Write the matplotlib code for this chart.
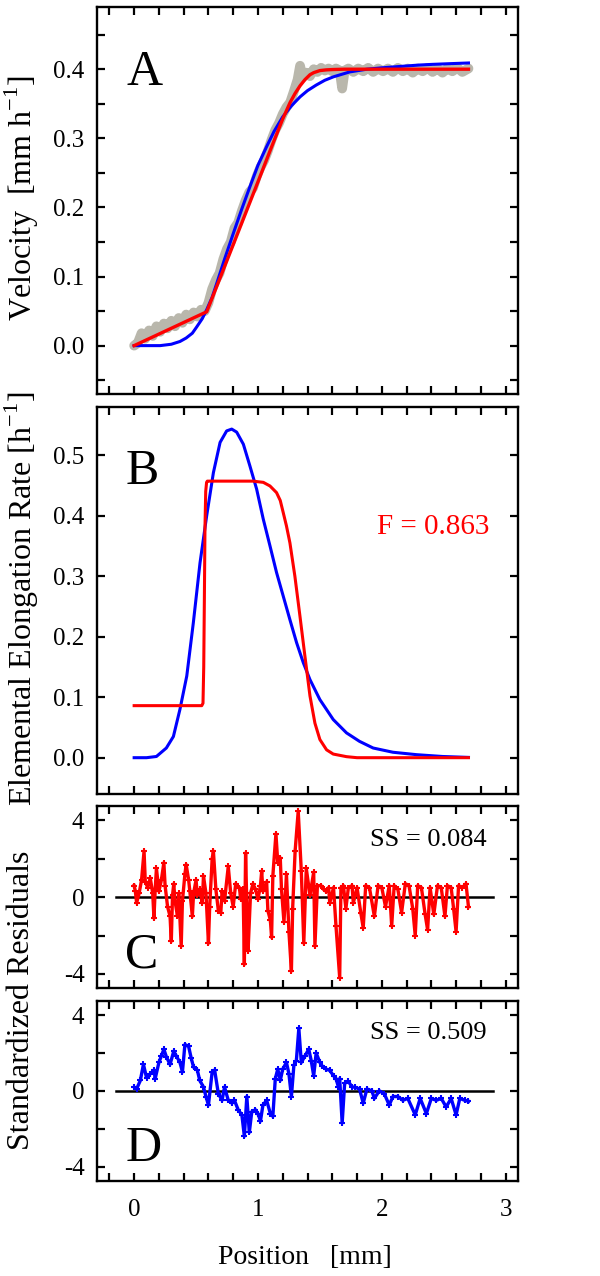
import matplotlib
matplotlib.use("Agg")
import matplotlib.pyplot as plt
from matplotlib.ticker import MultipleLocator, FixedLocator, FormatStrFormatter

plt.rcParams['font.family'] = ['Liberation Serif', 'DejaVu Serif']
plt.rcParams['mathtext.fontset'] = 'custom'
plt.rcParams['mathtext.rm'] = 'Liberation Serif'
plt.rcParams['axes.unicode_minus'] = False

# ---------------- Panel A: velocity ----------------
pos_data = [0.00, 0.03, 0.06, 0.09, 0.12, 0.15, 0.18, 0.21, 0.24, 0.27, 0.30, 0.33, 0.36, 0.39,
            0.42, 0.45, 0.48, 0.51, 0.54, 0.57, 0.60, 0.63, 0.66, 0.69, 0.72, 0.75, 0.78, 0.81,
            0.84, 0.87, 0.90, 0.93, 0.96, 0.99, 1.02, 1.05, 1.08, 1.11, 1.14, 1.17, 1.20, 1.23,
            1.26, 1.29, 1.32, 1.34, 1.36, 1.39, 1.42, 1.45, 1.48, 1.51, 1.54, 1.57, 1.60, 1.63,
            1.66, 1.68, 1.70, 1.73, 1.77, 1.81, 1.85, 1.89, 1.93, 1.97, 2.01, 2.05, 2.09, 2.13,
            2.17, 2.21, 2.25, 2.29, 2.33, 2.37, 2.41, 2.45, 2.49, 2.53, 2.57, 2.61, 2.65, 2.70]
vel_data = [0.000, 0.004, 0.018, 0.010, 0.022, 0.014, 0.028, 0.020, 0.032, 0.025, 0.036, 0.028,
            0.040, 0.033, 0.045, 0.038, 0.048, 0.042, 0.052, 0.050, 0.062, 0.082, 0.095, 0.105,
            0.125, 0.140, 0.150, 0.170, 0.178, 0.195, 0.210, 0.222, 0.228, 0.245, 0.258, 0.268,
            0.282, 0.298, 0.312, 0.322, 0.335, 0.345, 0.352, 0.368, 0.385, 0.405, 0.388, 0.395,
            0.390, 0.400, 0.396, 0.402, 0.398, 0.401, 0.397, 0.401, 0.398, 0.372, 0.398, 0.401,
            0.396, 0.401, 0.397, 0.402, 0.396, 0.401, 0.397, 0.401, 0.396, 0.402, 0.397, 0.401,
            0.395, 0.401, 0.397, 0.402, 0.396, 0.401, 0.395, 0.401, 0.397, 0.402, 0.396, 0.401]

pos_vfit_red = [0.00, 0.586, 0.80, 1.00, 1.10, 1.20, 1.26, 1.30, 1.34, 1.38, 1.42, 1.45, 1.50,
                1.55, 1.60, 1.70, 2.70]
vel_fit_red = [0.000, 0.049, 0.146, 0.237, 0.283, 0.328, 0.352, 0.365, 0.376, 0.385, 0.392,
               0.395, 0.398, 0.399, 0.3995, 0.400, 0.400]

pos_vfit_blue = [0.00, 0.21, 0.30, 0.37, 0.42, 0.47, 0.505, 0.55, 0.586, 0.63, 0.667, 0.73, 0.80,
                 0.87, 0.935, 1.00, 1.07, 1.13, 1.20, 1.27, 1.34, 1.40, 1.47, 1.54, 1.61, 1.74,
                 1.88, 2.00, 2.15, 2.30, 2.41, 2.55, 2.70]
vel_fit_blue = [0.000, 0.000, 0.002, 0.006, 0.011, 0.018, 0.027, 0.039, 0.052, 0.070, 0.090,
                0.125, 0.162, 0.198, 0.230, 0.261, 0.288, 0.310, 0.331, 0.347, 0.360, 0.369,
                0.377, 0.384, 0.389, 0.396, 0.400, 0.402, 0.404, 0.406, 0.407, 0.408, 0.409]

# ---------------- Panel B: elemental elongation rate ----------------
pos_eer_red = [0.00, 0.546, 0.556, 0.562, 0.567, 0.572, 0.578, 0.585, 0.591, 0.70, 0.80, 0.90,
               0.962, 1.00, 1.043, 1.097, 1.15, 1.18, 1.204, 1.23, 1.258, 1.298, 1.339, 1.379,
               1.42, 1.46, 1.50, 1.554, 1.608, 1.715, 1.80, 2.20, 2.70]
eer_red = [0.086, 0.086, 0.090, 0.150, 0.260, 0.380, 0.440, 0.455, 0.457, 0.457, 0.457, 0.457,
           0.457, 0.456, 0.455, 0.449, 0.438, 0.425, 0.405, 0.383, 0.355, 0.300, 0.234, 0.168,
           0.102, 0.057, 0.030, 0.013, 0.006, 0.0017, 0.000, 0.000, 0.000]

pos_eer_blue = [0.00, 0.10, 0.18, 0.26, 0.317, 0.37, 0.425, 0.478, 0.532, 0.586, 0.64, 0.694,
                0.747, 0.788, 0.828, 0.882, 0.935, 0.989, 1.043, 1.097, 1.15, 1.204, 1.258,
                1.312, 1.366, 1.42, 1.50, 1.608, 1.715, 1.82, 1.93, 2.09, 2.28, 2.49, 2.70]
eer_blue = [0.000, 0.000, 0.002, 0.016, 0.035, 0.080, 0.135, 0.223, 0.322, 0.400, 0.471, 0.521,
            0.540, 0.543, 0.538, 0.518, 0.482, 0.444, 0.394, 0.350, 0.306, 0.267, 0.228, 0.190,
            0.157, 0.129, 0.096, 0.063, 0.041, 0.027, 0.016, 0.009, 0.005, 0.002, 0.0005]

# ---------------- Panel C: residuals, red model ----------------
pos_res_red = [0.00, 0.01, 0.02, 0.04, 0.06, 0.08, 0.09, 0.11, 0.13, 0.15, 0.16, 0.17, 0.18,
               0.20, 0.22, 0.24, 0.25, 0.27, 0.29, 0.30, 0.31, 0.32, 0.33, 0.35, 0.36, 0.38,
               0.39, 0.41, 0.42, 0.44, 0.45, 0.47, 0.48, 0.50, 0.51, 0.53, 0.55, 0.56, 0.58,
               0.60, 0.61, 0.63, 0.64, 0.66, 0.68, 0.70, 0.71, 0.73, 0.76, 0.78, 0.80, 0.82,
               0.85, 0.86, 0.88, 0.89, 0.90, 0.91, 0.92, 0.94, 0.96, 0.98, 1.00, 1.02, 1.03,
               1.04, 1.07, 1.08, 1.10, 1.11, 1.12, 1.145, 1.16, 1.18, 1.19, 1.21, 1.23, 1.25,
               1.27, 1.28, 1.30, 1.325, 1.35, 1.37, 1.39, 1.42, 1.45, 1.46, 1.48, 1.51, 1.53,
               1.55, 1.57, 1.58, 1.61, 1.63, 1.66, 1.67, 1.69, 1.71, 1.73, 1.76, 1.77, 1.80,
               1.83, 1.85, 1.87, 1.90, 1.94, 1.97, 2.00, 2.03, 2.06, 2.08, 2.10, 2.13, 2.16,
               2.19, 2.22, 2.25, 2.27, 2.29, 2.32, 2.35, 2.37, 2.39, 2.42, 2.45, 2.48, 2.51,
               2.53, 2.56, 2.58, 2.60, 2.62, 2.65, 2.68, 2.70]
res_red = [0.6, 0.3, -0.3, 0.2, 0.9, 2.4, 0.8, 0.5, 1.0, 0.2, -1.1, 0.4, 1.5,
           0.3, 0.9, 1.8, 0.6, -0.5, -1.0, -2.3, 0.1, 0.7, -0.2, -1.0, 0.2, -2.55,
           -0.2, 1.2, 1.7, 0.9, 0.3, -1.0, 0.2, 0.9, 0.1, 0.4, -0.3, 1.1, 0.2,
           -2.4, -0.5, 2.0, 2.4, 0.4, -0.7, -0.8, 0.3, -0.2, 1.6, 0.2, -0.5, 0.7,
           0.5, -0.1, 0.4, -3.5, 2.3, -0.4, -2.8, 0.2, 0.7, 0.4, -0.1, 0.6, 1.35,
           0.3, 0.8, -0.7, -1.2, -2.1, 1.1, 3.3, 1.8, 2.05, 0.4, -1.3, 1.2, -1.8,
           -3.85, -0.6, 2.4, 4.48, 1.35, -2.4, 1.5, 0.1, 1.3, -2.55, 0.6, 0.6, 0.4,
           0.3, 0.5, -0.3, 0.5, -1.5, -4.2, 0.5, 0.6, -0.6, 0.5, 0.6, -0.3, 0.5,
           -0.8, -1.6, 0.6, 0.5, -1.0, 0.6, 0.5, -0.5, 0.6, -1.5, 0.6, 0.4, -0.8,
           0.7, 0.6, -0.6, -2.0, 0.6, 0.5, -0.9, -1.7, 0.5, -0.9, 0.6, 0.5, -1.0,
           0.6, 0.5, -0.6, -1.8, 0.6, 0.5, 0.7, -0.5]

# ---------------- Panel D: residuals, blue model ----------------
pos_res_blue = [0.00, 0.02, 0.05, 0.075, 0.10, 0.13, 0.16, 0.17, 0.20, 0.22, 0.24, 0.26, 0.29,
                0.32, 0.34, 0.37, 0.39, 0.41, 0.44, 0.46, 0.48, 0.51, 0.53, 0.56, 0.58, 0.60,
                0.63, 0.65, 0.68, 0.71, 0.73, 0.76, 0.79, 0.81, 0.84, 0.87, 0.89, 0.91, 0.93,
                0.95, 0.98, 1.00, 1.02, 1.04, 1.07, 1.10, 1.12, 1.14, 1.16, 1.18, 1.20, 1.23,
                1.25, 1.27, 1.29, 1.31, 1.33, 1.35, 1.38, 1.41, 1.43, 1.45, 1.47, 1.50, 1.52,
                1.55, 1.58, 1.61, 1.63, 1.65, 1.66, 1.68, 1.70, 1.73, 1.76, 1.78, 1.82, 1.85,
                1.88, 1.92, 1.94, 1.98, 2.02, 2.06, 2.09, 2.13, 2.17, 2.21, 2.27, 2.31, 2.36,
                2.40, 2.44, 2.48, 2.52, 2.56, 2.60, 2.63, 2.67, 2.70]
res_blue = [0.2, 0.1, 0.55, 1.4, 0.7, 0.9, 1.1, 0.65, 1.5, 1.85, 2.2, 1.8, 1.4,
            2.1, 1.85, 1.5, 1.0, 2.45, 2.35, 1.75, 1.25, 1.1, 0.55, 0.2, -0.3, -0.75,
            1.0, 1.1, -0.15, -0.5, 0.2, -0.5, -0.65, -0.5, -1.0, -1.27, -2.4, -0.3, -2.2,
            -1.1, -1.0, -1.2, -1.6, -0.75, -0.5, -1.2, -1.35, 0.65, 1.15, 0.55, 1.15, 1.5,
            0.9, -0.3, 1.35, 1.6, 3.3, 1.5, 1.85, 2.2, 1.6, 0.8, 2.0, 1.5, 1.3,
            1.15, 1.08, 0.8, 0.65, 0.2, 0.65, -1.7, 0.4, 0.5, 0.2, 0.2, 0.1, -0.65,
            0.1, 0.0, -0.4, 0.0, -0.15, -0.75, -0.3, -0.3, -0.5, -0.4, -1.27, -0.4, -1.2,
            -0.4, -0.5, -0.4, -0.85, -0.4, -1.27, -0.4, -0.5, -0.55]

ss_red = "SS = 0.084"
ss_blue = "SS = 0.509"
f_label = "F = 0.863"

# ---------------- Figure ----------------
W, H = 600, 1276
fig = plt.figure(figsize=(W / 100, H / 100), dpi=100)

def box(top, bottom, left=97, right=518):
    return [left / W, 1 - bottom / H, (right - left) / W, (bottom - top) / H]

axA = fig.add_axes(box(7, 394))
axB = fig.add_axes(box(406.7, 794))
axC = fig.add_axes(box(806, 988.3))
axD = fig.add_axes(box(1001, 1180.7))

RED = '#ff0000'
BLUE = '#0000ff'
GRAY = '#b9b7ac'

for ax in (axA, axB, axC, axD):
    ax.set_xlim(-0.3, 3.1)
    ax.xaxis.set_major_locator(MultipleLocator(1))
    ax.xaxis.set_minor_locator(MultipleLocator(0.2))
    for s in ax.spines.values():
        s.set_linewidth(1.7)
    ax.tick_params(which='both', direction='in', top=True, right=True,
                   length=6, width=1.6, labelsize=18)
    ax.tick_params(axis='y', pad=9)
    ax.tick_params(axis='x', pad=13)
    if ax is not axD:
        ax.tick_params(axis='x', labelbottom=False)

# Panel A
axA.plot(pos_data, vel_data, color=GRAY, lw=7, solid_capstyle='round', zorder=1)
axA.plot(pos_vfit_blue, vel_fit_blue, color=BLUE, lw=2.2, zorder=2)
axA.plot(pos_vfit_red, vel_fit_red, color=RED, lw=2.4, zorder=3)
axA.set_ylim(-0.07, 0.49)
axA.yaxis.set_major_locator(FixedLocator([0.0, 0.1, 0.2, 0.3, 0.4]))
axA.yaxis.set_minor_locator(FixedLocator([-0.05, 0.05, 0.15, 0.25, 0.35, 0.45]))
axA.yaxis.set_major_formatter(FormatStrFormatter('%.1f'))
axA.text(-0.065, 0.377, 'A', fontsize=36)

# Panel B
axB.plot(pos_eer_blue, eer_blue, color=BLUE, lw=2.2)
axB.plot(pos_eer_red, eer_red, color=RED, lw=2.2)
axB.set_ylim(-0.06, 0.58)
axB.yaxis.set_major_locator(FixedLocator([0.0, 0.1, 0.2, 0.3, 0.4, 0.5]))
axB.yaxis.set_minor_locator(FixedLocator([]))
axB.yaxis.set_major_formatter(FormatStrFormatter('%.1f'))
axB.text(-0.073, 0.452, 'B', fontsize=36)
axB.text(1.96, 0.369, f_label, fontsize=21, color=RED)

# Panels C and D
for ax, xs, ys, col, ss, letter, ly, sy in (
        (axC, pos_res_red, res_red, RED, ss_red, 'C', -3.65, 2.69),
        (axD, pos_res_blue, res_blue, BLUE, ss_blue, 'D', -3.73, 2.74)):
    ax.plot([-0.15, 2.9], [0, 0], color='black', lw=1.8, zorder=1)
    ax.plot(xs, ys, color=col, lw=2.4, marker='+', ms=5, mew=1.5, zorder=2)
    ax.set_ylim(-4.75, 4.75)
    ax.yaxis.set_major_locator(FixedLocator([-4, 0, 4]))
    ax.yaxis.set_minor_locator(FixedLocator([-2, 2]))
    ax.yaxis.set_major_formatter(FormatStrFormatter('%d'))
    ax.text(-0.07, ly, letter, fontsize=36)
    ax.text(2.85, sy, ss, fontsize=19, ha='right')

axD.set_xticks([0, 1, 2, 3])
axD.set_xticklabels(['0', '1', '2', '3'])

# Axis labels
fig.text(22 / W, 1 - 198 / H, r'Velocity  [mm h$^{\mathregular{-1}}$]', rotation=90,
         fontsize=23, ha='center', va='center')
fig.text(22 / W, 1 - 599 / H, r'Elemental Elongation Rate [h$^{\mathregular{-1}}$]', rotation=90,
         fontsize=23, ha='center', va='center')
fig.text(22 / W, 1 - 1000 / H, 'Standardized Residuals', rotation=90,
         fontsize=23, ha='center', va='center')
fig.text(305 / W, 1 - 1257 / H, 'Position   [mm]', fontsize=20, ha='center', va='center')

fig.savefig('out.png', dpi=100)
